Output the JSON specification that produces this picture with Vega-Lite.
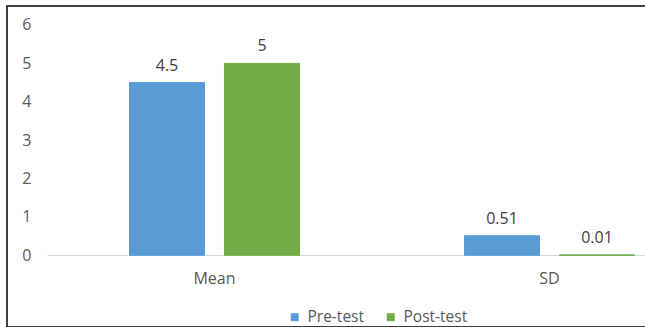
{
  "$schema": "https://vega.github.io/schema/vega-lite/v6.json",
  "autosize": "none",
  "width": 641,
  "height": 321,
  "padding": {"left": 7, "top": 6, "right": -3, "bottom": 0},
  "background": "white",
  "config": {
    "view": {"stroke": "#000000", "strokeWidth": 1.5},
    "font": "Open Sans",
    "axis": {"grid": false, "ticks": false, "tickSize": 0, "labelFont": "Open Sans", "labelFontSize": 16, "labelColor": "#595959", "title": null},
    "legend": {"labelFont": "Open Sans", "labelFontSize": 15.5, "labelColor": "#595959"}
  },
  "data": {
    "values": [
      {"stat": "Mean", "test": "Pre-test", "value": 4.5},
      {"stat": "Mean", "test": "Post-test", "value": 5},
      {"stat": "SD", "test": "Pre-test", "value": 0.51},
      {"stat": "SD", "test": "Post-test", "value": 0.01}
    ]
  },
  "encoding": {
    "x": {
      "field": "stat",
      "type": "nominal",
      "sort": ["Mean", "SD"],
      "scale": {"range": [40, 710], "paddingInner": 0.4925, "paddingOuter": 0.2463},
      "axis": {"orient": "bottom", "offset": -72, "labelAngle": 0, "labelPadding": 15, "domainColor": "#d9d9d9", "domainWidth": 1}
    },
    "xOffset": {
      "field": "test",
      "type": "nominal",
      "sort": ["Pre-test", "Post-test"],
      "scale": {"paddingInner": 0.21, "paddingOuter": 0}
    },
    "y": {
      "field": "value",
      "type": "quantitative",
      "scale": {"domain": [-1.868, 6.495], "nice": false, "zero": false},
      "axis": {"orient": "left", "offset": -24, "labelPadding": 0, "domain": false, "values": [0, 1, 2, 3, 4, 5, 6]}
    }
  },
  "layer": [
    {
      "mark": {"type": "bar", "strokeWidth": 1},
      "encoding": {
        "y2": {"datum": 0},
        "color": {
          "field": "test",
          "type": "nominal",
          "sort": ["Pre-test", "Post-test"],
          "scale": {"domain": ["Pre-test", "Post-test"], "range": ["#5B9BD5", "#70AD47"]},
          "legend": {
            "title": null,
            "orient": "none",
            "direction": "horizontal",
            "legendX": 280,
            "legendY": 303,
            "symbolType": "square",
            "symbolSize": 64,
            "symbolStrokeWidth": 0,
            "labelOffset": 5,
            "columnPadding": 19,
            "padding": 0
          }
        },
        "stroke": {
          "field": "test",
          "type": "nominal",
          "scale": {"domain": ["Pre-test", "Post-test"], "range": ["#5B9BD5", "#70AD47"]},
          "legend": null
        }
      }
    },
    {
      "mark": {"type": "text", "baseline": "alphabetic", "dy": -12, "fontSize": 16, "color": "#404040", "font": "Open Sans"},
      "encoding": {"text": {"field": "value", "type": "quantitative"}}
    }
  ]
}
